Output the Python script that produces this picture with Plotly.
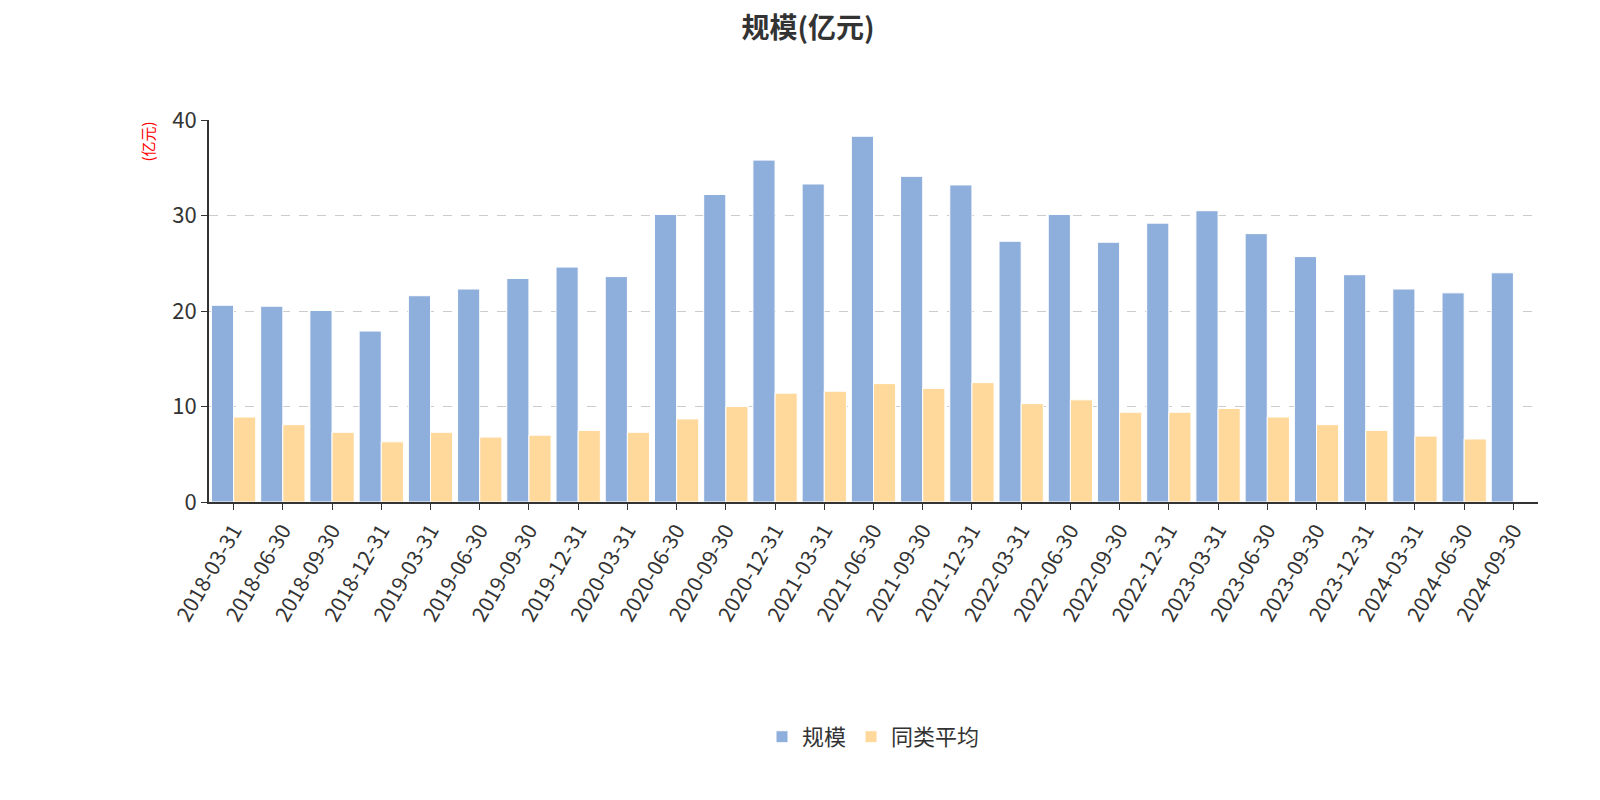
import plotly.graph_objects as go

dates = ["2018-03-31","2018-06-30","2018-09-30","2018-12-31","2019-03-31","2019-06-30","2019-09-30","2019-12-31",
         "2020-03-31","2020-06-30","2020-09-30","2020-12-31","2021-03-31","2021-06-30","2021-09-30","2021-12-31",
         "2022-03-31","2022-06-30","2022-09-30","2022-12-31","2023-03-31","2023-06-30","2023-09-30","2023-12-31",
         "2024-03-31","2024-06-30","2024-09-30"]
scale = [20.6,20.5,20.05,17.9,21.6,22.3,23.4,24.6,23.6,30.1,32.2,35.8,33.3,38.3,34.1,33.2,
         27.3,30.1,27.2,29.2,30.5,28.1,25.7,23.8,22.3,21.9,24.0]
avg = [8.9,8.1,7.3,6.3,7.3,6.8,7.0,7.5,7.3,8.7,10.0,11.4,11.6,12.4,11.9,12.5,
       10.3,10.7,9.4,9.4,9.8,8.9,8.1,7.5,6.9,6.6,None]

fig = go.Figure()
fig.add_bar(x=dates, y=scale, name="规模", marker=dict(color="#8eaedb", line=dict(color="#ffffff", width=1)))
fig.add_bar(x=dates, y=avg, name="同类平均", marker=dict(color="#fed99b", line=dict(color="#ffffff", width=1)))

fig.update_layout(
    width=1600, height=800, plot_bgcolor="white", paper_bgcolor="white",
    font=dict(family="Noto Sans CJK SC", color="#333"),
    title=dict(text="<b>规模(亿元)</b>", x=0.5, xanchor="center", y=0.975, yanchor="middle", font=dict(size=28, color="#333")),
    margin=dict(l=201, r=70, t=112, b=306),
    barmode="group", bargap=0.1, bargroupgap=0.0,
    legend=dict(orientation="h", x=0.5, xanchor="center", y=-0.615, yanchor="middle", font=dict(size=22)),
    xaxis=dict(type="category", tickangle=-60, tickfont=dict(size=21, color="#333"), showline=True,
               linecolor="#333", linewidth=2, ticks="outside", ticklen=6, tickcolor="#333"),
    yaxis=dict(range=[0, 40], dtick=10, tickfont=dict(size=22, color="#333"), showline=True, linecolor="#333",
               linewidth=2, ticks="outside", ticklen=6, tickcolor="#333", gridcolor="#cccccc", griddash="dash",
               zeroline=False),
    annotations=[
        dict(text="(亿元)", xref="paper", yref="paper", x=-0.047, y=1.0, xanchor="center", yanchor="top",
             textangle=-90, showarrow=False, font=dict(size=15, color="red")),
        dict(text="制图数据来自恒生聚源数据库", xref="paper", yref="paper", x=0.46, y=-0.825, xanchor="center",
             yanchor="middle", showarrow=False, font=dict(size=16, color="#c8962e")),
    ],
)
fig.write_html("out.html")
